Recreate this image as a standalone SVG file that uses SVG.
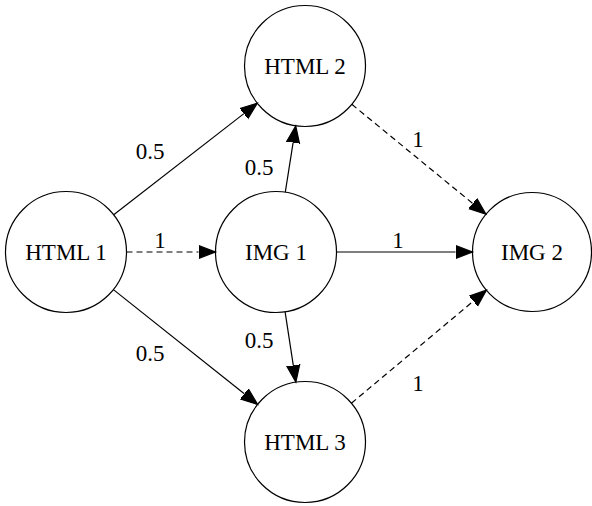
<svg xmlns="http://www.w3.org/2000/svg" width="592" height="506" viewBox="0 0 592 506">
<style>
.node circle{fill:none;stroke:#000;stroke-width:1.2}
text{font-family:"Liberation Serif","Times New Roman",serif;font-size:23px;fill:#000;text-anchor:middle}
.edge{fill:none;stroke:#000;stroke-width:1.2;marker-end:url(#arr)}
.dashed{stroke-dasharray:6,4}
</style>
<defs>
<marker id="arr" markerUnits="userSpaceOnUse" viewBox="0 -8 19 16" refX="0" refY="0" markerWidth="19" markerHeight="16" orient="auto">
<path d="M0,-6.5 L17,0 L0,6.5 Z" fill="#000" stroke="#000" stroke-width="1.2" stroke-dasharray="none"/>
</marker>
</defs>
<rect width="592" height="506" fill="#fff"/>
<g id="connectors">
<line class="edge" x1="113.7" y1="214.8" x2="243.9" y2="113.6"/>
<text x="150" y="159">0.5</text>
<line class="edge" x1="285.3" y1="192.2" x2="293.1" y2="142.6"/>
<text x="259" y="175">0.5</text>
<line class="edge dashed" x1="126.5" y1="252" x2="198.5" y2="252"/>
<text x="160" y="248">1</text>
<line class="edge" x1="336.5" y1="252" x2="455.5" y2="252"/>
<text x="398" y="248">1</text>
<line class="edge dashed" x1="351.8" y1="104.3" x2="472.8" y2="203.5"/>
<text x="418" y="147">1</text>
<line class="edge" x1="113.4" y1="289.6" x2="244.3" y2="393.8"/>
<text x="150" y="361">0.5</text>
<line class="edge" x1="285.1" y1="311.8" x2="293.3" y2="365.4"/>
<text x="259" y="348">0.5</text>
<line class="edge dashed" x1="351.4" y1="403.2" x2="473.4" y2="301.1"/>
<text x="418" y="391">1</text>
</g>
<g id="html1" class="node"><circle cx="66" cy="252" r="60.5"/><text x="66" y="260">HTML 1</text></g>
<g id="html2" class="node"><circle cx="305" cy="66" r="60.5"/><text x="305" y="74">HTML 2</text></g>
<g id="img1" class="node"><circle cx="276" cy="252" r="60.5"/><text x="276" y="260">IMG 1</text></g>
<g id="img2" class="node"><circle cx="532" cy="252" r="59.5"/><text x="532" y="260">IMG 2</text></g>
<g id="html3" class="node"><circle cx="305" cy="442" r="60.5"/><text x="305" y="450">HTML 3</text></g>
</svg>
